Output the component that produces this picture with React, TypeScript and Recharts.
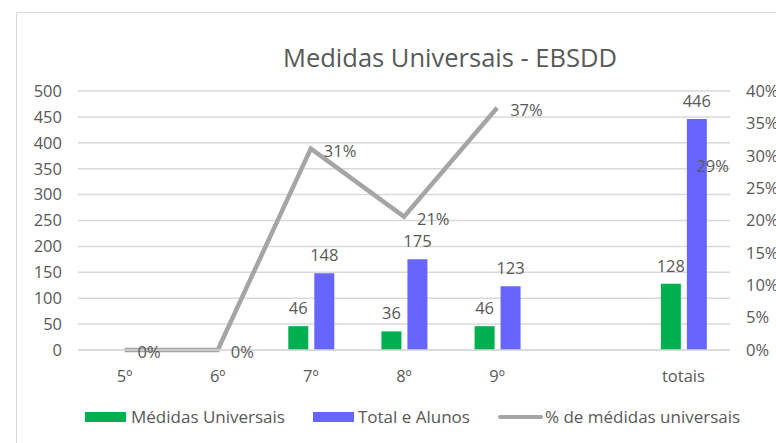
import React from "react";
import {
  ComposedChart,
  Bar,
  Line,
  XAxis,
  YAxis,
  CartesianGrid,
  LabelList,
} from "recharts";

// values
const categories = ["5º", "6º", "7º", "8º", "9º", "", "totais"];
const medidas = [null, null, 46, 36, 46, null, 128];
const totalAlunos = [null, null, 148, 175, 123, null, 446];
const percentMedidas = [0, 0, 0.311, 0.206, 0.374, null, 0.287];

const leftTicks = [0, 50, 100, 150, 200, 250, 300, 350, 400, 450, 500];
const rightTicks = [0, 0.05, 0.1, 0.15, 0.2, 0.25, 0.3, 0.35, 0.4];

const FONT = "'Open Sans', sans-serif";
const TEXT = "#595959";
const GREEN = "#00B050";
const BLUE = "#6666FF";
const GRAY = "#A5A5A5";
const GRID = "#D9D9D9";

const data = categories.map((c, i) => ({
  cat: c,
  medidas: medidas[i],
  total: totalAlunos[i],
  pct: percentMedidas[i],
}));

const pctLabel = (v: number) => `${Math.round(v * 100)}%`;

// line labels sit to the right of each point, like Excel's "right" position
const LineLabel = (props: any) => {
  const { x, y, value } = props;
  if (value == null || y == null) return null;
  return (
    <text x={x + 13} y={y + 8} fill={TEXT} fontSize={16.5} fontFamily={FONT}>
      {pctLabel(value)}
    </text>
  );
};

const tickStyle = { fill: TEXT, fontSize: 16.5, fontFamily: FONT };

export default function App() {
  return (
    <div
      style={{
        position: "absolute",
        top: 0,
        left: 0,
        width: 776,
        height: 443,
        overflow: "hidden",
        background: "#fff",
        fontFamily: FONT,
      }}
    >
      {/* chart frame, cropped on the right and bottom */}
      <div
        style={{
          position: "absolute",
          left: 16,
          top: 12,
          width: 900,
          height: 600,
          border: `1.5px solid ${GRID}`,
        }}
      />
      <div
        style={{
          position: "absolute",
          top: 40,
          left: 250,
          width: 400,
          textAlign: "center",
          fontSize: 25.5,
          color: TEXT,
          whiteSpace: "nowrap",
        }}
      >
        Medidas Universais - EBSDD
      </div>

      <div style={{ position: "absolute", top: 0, left: 0 }}>
        <ComposedChart
          width={776}
          height={443}
          data={data}
          margin={{ top: 91, right: 0, bottom: 53, left: 0 }}
          barSize={20}
          barGap={6}
        >
          <CartesianGrid vertical={false} stroke={GRID} strokeWidth={1.5} yAxisId="left" />
          <XAxis
            dataKey="cat"
            height={40}
            tick={tickStyle}
            tickLine={false}
            tickSize={6}
            tickMargin={14}
            axisLine={{ stroke: GRID, strokeWidth: 1.5 }}
            interval={0}
          />
          <YAxis
            yAxisId="left"
            width={78}
            domain={[0, 500]}
            ticks={leftTicks}
            tick={tickStyle}
            tickLine={false}
            axisLine={false}
            tickSize={6}
            tickMargin={10}
          />
          <YAxis
            yAxisId="right"
            orientation="right"
            width={46}
            domain={[0, 0.4]}
            ticks={rightTicks}
            tickFormatter={pctLabel}
            tick={{ ...tickStyle, textAnchor: "start" }}
            tickLine={false}
            axisLine={false}
            tickSize={6}
            tickMargin={10}
          />
          <Bar yAxisId="left" dataKey="medidas" fill={GREEN} isAnimationActive={false}>
            <LabelList
              dataKey="medidas"
              position="top"
              offset={12}
              fill={TEXT}
              fontSize={16.5}
              fontFamily={FONT}
            />
          </Bar>
          <Bar yAxisId="left" dataKey="total" fill={BLUE} isAnimationActive={false}>
            <LabelList
              dataKey="total"
              position="top"
              offset={12}
              fill={TEXT}
              fontSize={16.5}
              fontFamily={FONT}
            />
          </Bar>
          <Line
            yAxisId="right"
            dataKey="pct"
            stroke={GRAY}
            strokeWidth={4.5}
            dot={false}
            activeDot={false}
            isAnimationActive={false}
          >
            <LabelList dataKey="pct" content={<LineLabel />} />
          </Line>
        </ComposedChart>
      </div>

      {/* legend */}
      <div
        style={{
          position: "absolute",
          top: 405,
          left: 85,
          display: "flex",
          alignItems: "center",
          gap: 28,
          fontSize: 17,
          color: TEXT,
          whiteSpace: "nowrap",
        }}
      >
        <span style={{ display: "flex", alignItems: "center", gap: 5 }}>
          <span style={{ width: 41, height: 10, background: GREEN }} />
          Médidas Universais
        </span>
        <span style={{ display: "flex", alignItems: "center", gap: 4 }}>
          <span style={{ width: 41, height: 10, background: BLUE }} />
          Total e Alunos
        </span>
        <span style={{ display: "flex", alignItems: "center", gap: 2 }}>
          <span style={{ width: 45, height: 4, borderRadius: 2, background: GRAY }} />
          % de médidas universais
        </span>
      </div>
    </div>
  );
}
